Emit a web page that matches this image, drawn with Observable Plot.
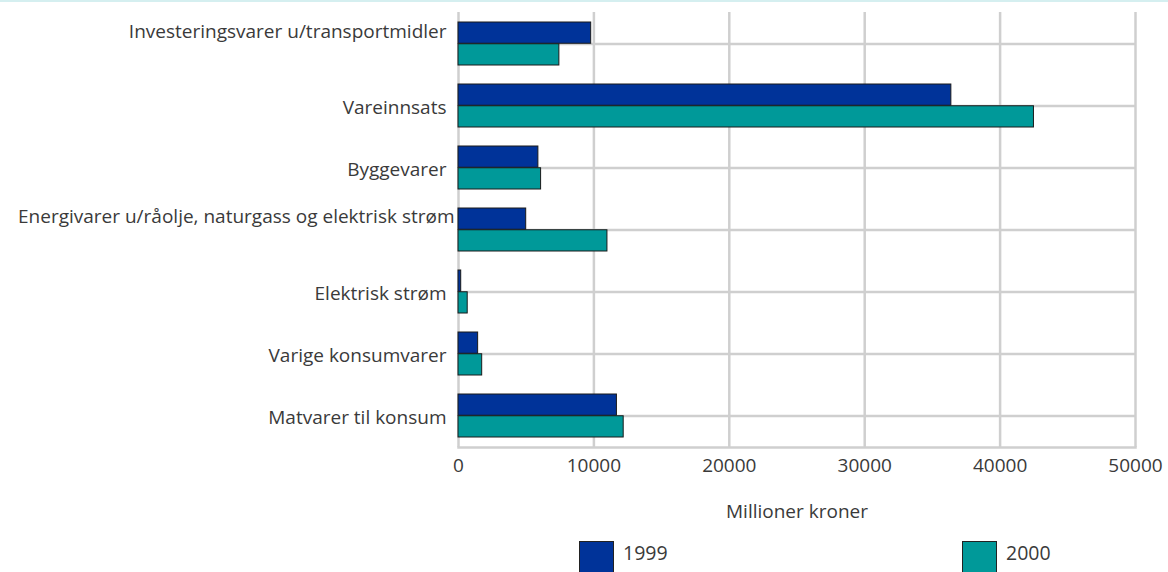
<!DOCTYPE html>
<html>
<head>
<meta charset="utf-8">
<script src="https://cdn.jsdelivr.net/npm/d3@7"></script>
<script src="https://cdn.jsdelivr.net/npm/@observablehq/plot@0.6"></script>
<style>
  html, body { margin: 0; padding: 0; background: #fff; }
  body { font-family: "Open Sans", sans-serif; color: #3a3a3a; width: 1168px; height: 572px; overflow: hidden; position: relative; }
  #topline { position: absolute; left: 0; top: 0; width: 1168px; height: 2px; background: #d5eff0; }
  #legend { position: relative; height: 42px; }
  .item { position: absolute; top: 11px; display: flex; align-items: flex-start; font-size: 19.5px; color: #3a3a3a; }
  .sw { width: 33px; height: 32px; border: 1px solid #222; box-sizing: content-box; margin-right: 9px; }
  .lab { line-height: 1; margin-top: 2px; }
</style>
</head>
<body>
<div id="topline"></div>
<div id="chart"></div>
<div id="legend"></div>
<script>
const categories = [
  "Investeringsvarer u/transportmidler",
  "Vareinnsats",
  "Byggevarer",
  "Energivarer u/råolje, naturgass og elektrisk strøm",
  "Elektrisk strøm",
  "Varige konsumvarer",
  "Matvarer til konsum"
];
const years = ["1999", "2000"];
const values1999 = [9800, 36400, 5900, 5000, 200, 1450, 11700];
const values2000 = [7450, 42500, 6100, 11000, 680, 1750, 12200];
const xTicks = [0, 10000, 20000, 30000, 40000, 50000];
const colors = ["#003399", "#009999"];

const rows1999 = categories.map((c, i) => ({category: c, value: values1999[i]}));
const rows2000 = categories.map((c, i) => ({category: c, value: values2000[i]}));

const half = 21.75;
const grid = "#cfcfcf";
const raised = [categories[0]];
const raisedShifted = [categories[3]];
const normal = categories.filter(c => !raised.includes(c) && !raisedShifted.includes(c));

const chart = Plot.plot({
  width: 1168,
  height: 530,
  marginLeft: 458,
  marginRight: 33,
  marginTop: 12,
  marginBottom: 83,
  style: {fontFamily: "Open Sans, sans-serif", fontSize: "19px", color: "#3a3a3a", background: "transparent"},
  x: {domain: [0, 50000], ticks: xTicks, tickFormat: d => String(d), tickSize: 0, tickPadding: 11,
      label: "Millioner kroner", labelAnchor: "center", labelArrow: "none", labelOffset: 70},
  y: {domain: categories, paddingInner: 0.3, paddingOuter: 0.15, label: null},
  marks: [
    Plot.gridX(xTicks, {stroke: grid, strokeOpacity: 1, strokeWidth: 2.5}),
    Plot.gridY({stroke: grid, strokeOpacity: 1, strokeWidth: 2.5}),
    Plot.frame({anchor: "bottom", stroke: grid, strokeWidth: 2.5}),
    Plot.barX(rows1999, {x: "value", y: "category", fill: colors[0], stroke: "#1a1a1a", strokeWidth: 1, insetBottom: half}),
    Plot.barX(rows2000, {x: "value", y: "category", fill: colors[1], stroke: "#1a1a1a", strokeWidth: 1, insetTop: half}),
    Plot.axisY(normal, {tickSize: 0, tickPadding: 12, dy: 2, label: null}),
    Plot.axisY(raised, {tickSize: 0, tickPadding: 12, dy: -12, label: null}),
    Plot.axisY(raisedShifted, {tickSize: 0, tickPadding: 4, dy: -13, label: null})
  ]
});
document.getElementById("chart").appendChild(chart);

const legend = document.getElementById("legend");
const lefts = [579, 962];
years.forEach((y, i) => {
  const item = document.createElement("div");
  item.className = "item";
  item.style.left = lefts[i] + "px";
  const sw = document.createElement("div");
  sw.className = "sw";
  sw.style.background = colors[i];
  const lab = document.createElement("span");
  lab.className = "lab";
  lab.textContent = y;
  item.appendChild(sw);
  item.appendChild(lab);
  legend.appendChild(item);
});
</script>
</body>
</html>
